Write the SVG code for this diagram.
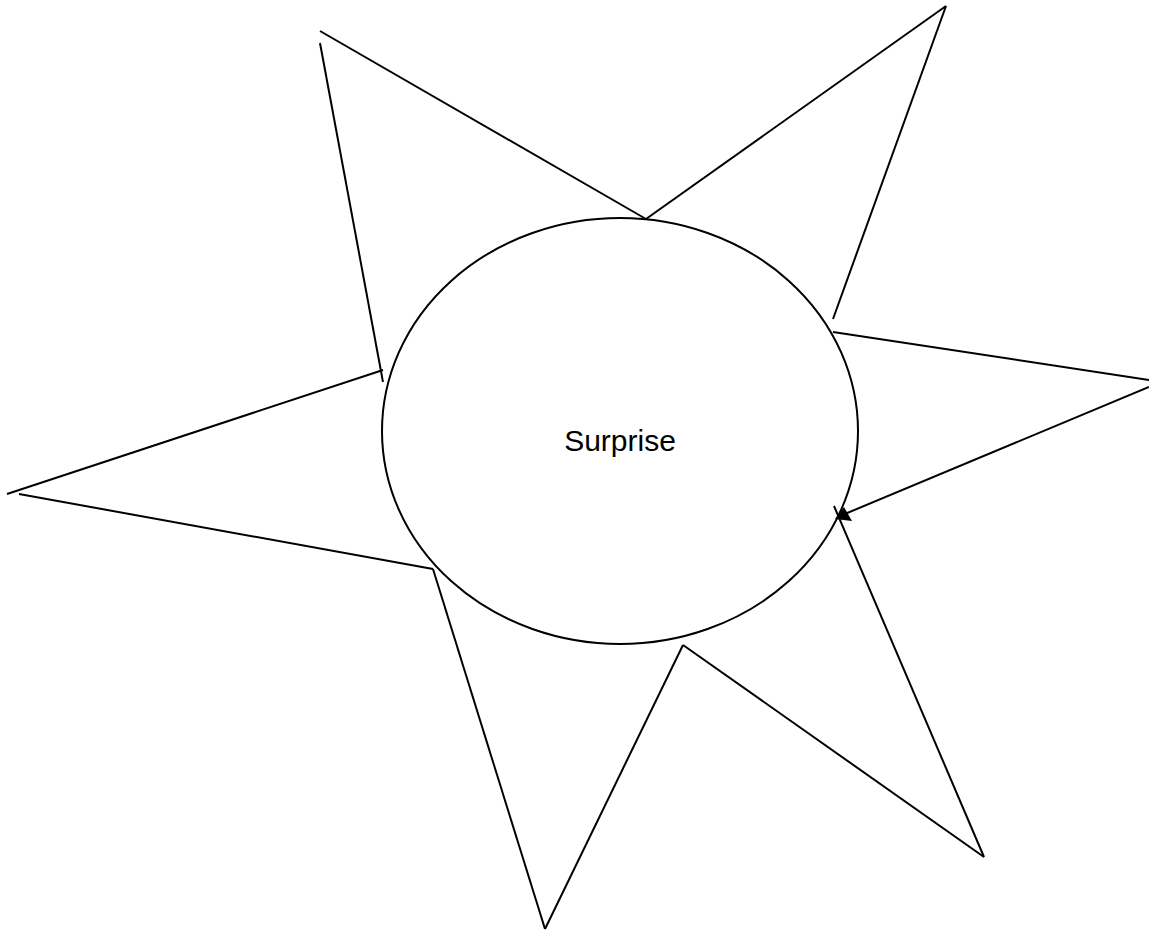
<svg xmlns="http://www.w3.org/2000/svg" width="1149" height="935" viewBox="0 0 1149 935">
<style>
.ln{stroke:#000;stroke-width:2;fill:none}
.lbl{font-family:"Liberation Sans",Arial,sans-serif;font-size:30px;fill:#000}
</style>
<rect width="1149" height="935" fill="#fff"/>
<g id="node-surprise">
<ellipse cx="620" cy="431" rx="238" ry="213" fill="#fff" stroke="#000" stroke-width="2"/>
<text class="lbl" x="620" y="451" text-anchor="middle">Surprise</text>
</g>
<g id="connectors">
<line class="ln" x1="320" y1="31" x2="646" y2="219"/>
<line class="ln" x1="320" y1="43" x2="383" y2="382"/>
<line class="ln" x1="646" y1="219" x2="946" y2="6"/>
<line class="ln" x1="946" y1="6" x2="833" y2="319"/>
<line class="ln" x1="833" y1="332" x2="1149" y2="380"/>
<line class="ln" x1="1149" y1="387" x2="840" y2="516"/>
<path d="M835,519 L844,507 L852,521 z" fill="#000"/>
<line class="ln" x1="834" y1="506" x2="984" y2="857"/>
<line class="ln" x1="984" y1="857" x2="683" y2="645"/>
<line class="ln" x1="683" y1="645" x2="545" y2="929"/>
<line class="ln" x1="545" y1="929" x2="433" y2="569"/>
<line class="ln" x1="433" y1="569" x2="19" y2="494"/>
<line class="ln" x1="7" y1="494" x2="383" y2="370"/>
</g>
</svg>
